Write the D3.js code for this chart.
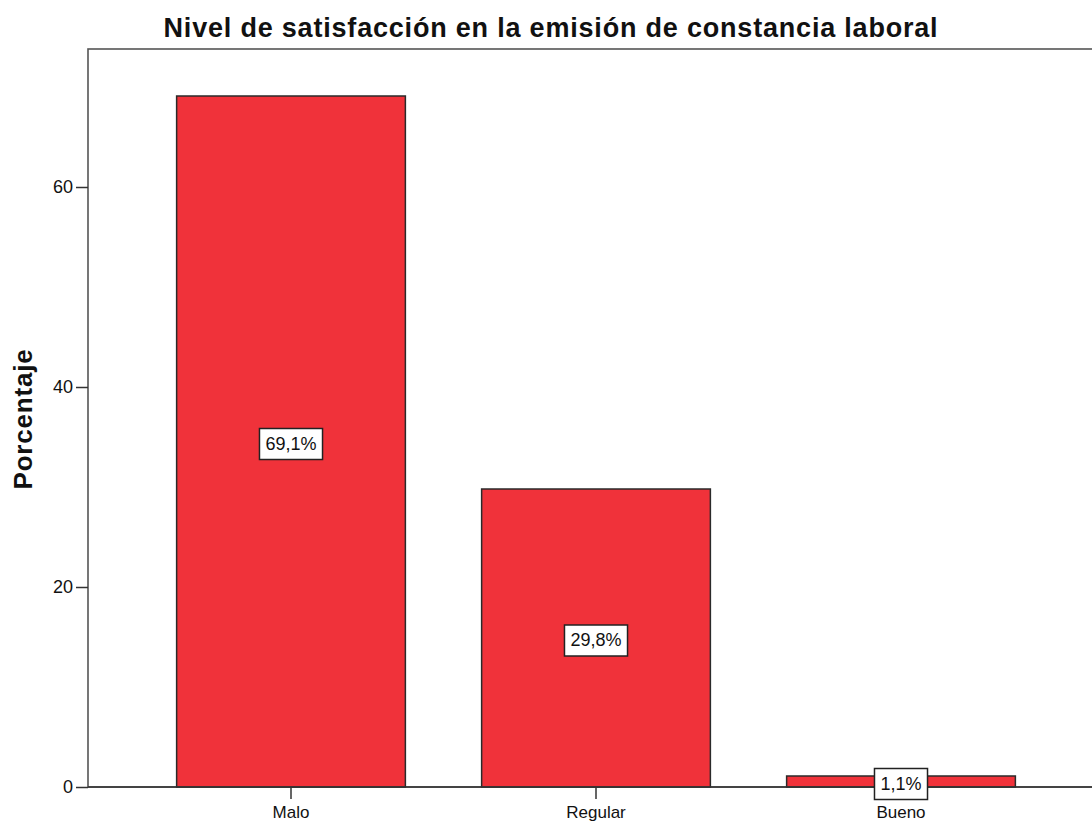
<!DOCTYPE html>
<html>
<head>
<meta charset="utf-8">
<script src="https://cdn.jsdelivr.net/npm/d3@7"></script>
<style>
  body { margin: 0; background: #fff; }
  svg { display: block; font-family: "Liberation Sans", Arial, sans-serif; }
</style>
</head>
<body>
<script>
let categories = ['Malo', 'Regular', 'Bueno'];
let percents = [69.1, 29.8, 1.1];
let pctLabels = ['69,1%', '29,8%', '1,1%'];
let yTicks = [0, 20, 40, 60];

let W = 1092, H = 823;
let plot = { left: 88, top: 49, bottom: 787, right: 1110 };

let svg = d3.select('body').append('svg')
    .attr('width', W)
    .attr('height', H);

let x = d3.scaleBand()
    .domain(categories)
    .range([138.5, 1053.5])
    .paddingInner(0.25)
    .paddingOuter(0.125);

let y = d3.scaleLinear()
    .domain([0, 73.8])
    .range([plot.bottom, plot.top]);

// plot frame (right edge runs off the picture)
svg.append('rect')
    .attr('x', plot.left)
    .attr('y', plot.top)
    .attr('width', plot.right - plot.left)
    .attr('height', plot.bottom - plot.top)
    .attr('fill', 'none')
    .attr('stroke', '#555')
    .attr('stroke-width', 1.6);

// bars
svg.selectAll('.bar')
    .data(percents)
  .enter().append('rect')
    .attr('class', 'bar')
    .attr('x', function(d, i){ return x(categories[i]); })
    .attr('y', function(d){ return y(d); })
    .attr('width', x.bandwidth())
    .attr('height', function(d){ return y(0) - y(d); })
    .attr('fill', '#f0323a')
    .attr('stroke', '#2a2a2a')
    .attr('stroke-width', 1.5);

// y axis
let yAxis = svg.append('g')
    .attr('transform', 'translate(' + plot.left + ',0)')
    .call(d3.axisLeft(y).tickValues(yTicks).tickSize(12).tickPadding(3));
yAxis.select('.domain').remove();
yAxis.selectAll('line').attr('stroke', '#333').attr('stroke-width', 1.5);
yAxis.selectAll('text').attr('font-size', 18).attr('fill', '#111')
    .attr('font-family', '"Liberation Sans", Arial, sans-serif');

// x axis
let xAxis = svg.append('g')
    .attr('transform', 'translate(0,' + plot.bottom + ')')
    .call(d3.axisBottom(x).tickSize(12).tickPadding(7));
xAxis.select('.domain').remove();
xAxis.selectAll('line').attr('stroke', '#333').attr('stroke-width', 1.5);
xAxis.selectAll('text').attr('font-size', 17).attr('fill', '#111')
    .attr('font-family', '"Liberation Sans", Arial, sans-serif');

// bottom axis line over the bars
svg.append('line')
    .attr('x1', plot.left).attr('x2', W)
    .attr('y1', plot.bottom).attr('y2', plot.bottom)
    .attr('stroke', '#333')
    .attr('stroke-width', 1.6);

// value labels in boxes at the middle of each bar
let lab = svg.selectAll('.lab')
    .data(percents)
  .enter().append('g')
    .attr('class', 'lab')
    .attr('transform', function(d, i){
      return 'translate(' + (x(categories[i]) + x.bandwidth() / 2) + ',' + (y(d / 2) + 2) + ')';
    });

lab.append('rect');
lab.append('text')
    .attr('text-anchor', 'middle')
    .attr('dy', '0.36em')
    .attr('font-size', 18)
    .attr('fill', '#111')
    .text(function(d, i){ return pctLabels[i]; });

lab.each(function(){
  let g = d3.select(this);
  let bb = g.select('text').node().getBBox();
  g.select('rect')
      .attr('x', bb.x - 6)
      .attr('y', -15)
      .attr('width', bb.width + 12)
      .attr('height', 31)
      .attr('fill', '#fff')
      .attr('stroke', '#222')
      .attr('stroke-width', 1.5);
});

// title
svg.append('text')
    .attr('x', 551)
    .attr('y', 37)
    .attr('text-anchor', 'middle')
    .attr('font-size', 27)
    .attr('font-weight', 'bold')
    .attr('letter-spacing', 0.8)
    .attr('fill', '#111')
    .text('Nivel de satisfacción en la emisión de constancia laboral');

// y axis label
svg.append('text')
    .attr('transform', 'translate(32,419) rotate(-90)')
    .attr('text-anchor', 'middle')
    .attr('font-size', 26)
    .attr('font-weight', 'bold')
    .attr('letter-spacing', 0.8)
    .attr('fill', '#111')
    .text('Porcentaje');
</script>
</body>
</html>
